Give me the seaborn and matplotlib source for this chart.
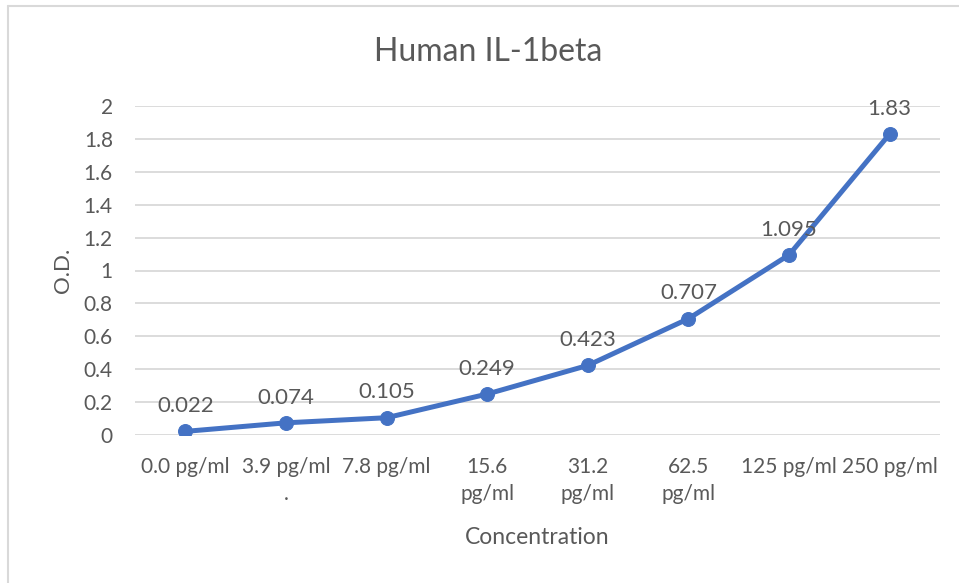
import matplotlib
matplotlib.use("Agg")
import matplotlib.pyplot as plt
import seaborn as sns
import pandas as pd
from matplotlib.lines import Line2D

categories = ["0.0 pg/ml", "3.9 pg/ml\n.", "7.8 pg/ml", "15.6\npg/ml",
              "31.2\npg/ml", "62.5\npg/ml", "125 pg/ml", "250 pg/ml"]
od_values = [0.022, 0.074, 0.105, 0.249, 0.423, 0.707, 1.095, 1.83]
value_labels = ["0.022", "0.074", "0.105", "0.249", "0.423", "0.707", "1.095", "1.83"]
y_ticks = [0, 0.2, 0.4, 0.6, 0.8, 1, 1.2, 1.4, 1.6, 1.8, 2]
y_tick_labels = ["0", "0.2", "0.4", "0.6", "0.8", "1", "1.2", "1.4", "1.6", "1.8", "2"]

sns.set_theme(style="white")
plt.rcParams['font.family'] = ['Lato', 'DejaVu Sans']

df = pd.DataFrame({"Concentration": categories, "OD": od_values, "x": range(len(categories))})

fig = plt.figure(figsize=(9.59, 5.83), dpi=100)
ax = fig.add_axes([135/959, (583-435)/583, (940-135)/959, (435-106)/583])

line_color = "#4472C4"
text_color = "#595959"

sns.lineplot(data=df, x="x", y="OD", ax=ax, color=line_color, linewidth=3.6,
             marker="o", markersize=10, markeredgecolor=line_color, sort=False)

ax.set_xlim(-0.5, len(categories) - 0.5)
ax.set_ylim(0, 2)
ax.set_yticks(y_ticks)
ax.set_yticklabels(y_tick_labels)
ax.set_xticks(range(len(categories)))
ax.set_xticklabels(categories, linespacing=1.45)
ax.tick_params(axis="both", colors=text_color, labelsize=15, length=0)
ax.tick_params(axis="y", pad=16)
ax.tick_params(axis="x", pad=16)
ax.yaxis.grid(True, color="#D9D9D9", linewidth=1.3)
ax.set_axisbelow(True)
for s in ax.spines.values():
    s.set_visible(False)

for i, (v, lab) in enumerate(zip(od_values, value_labels)):
    ax.annotate(lab, (i, v), xytext=(0, 11), textcoords="offset points",
                ha="center", va="bottom", fontsize=16, color=text_color)

ax.set_xlabel("Concentration", fontsize=16.5, color=text_color, labelpad=16)
ax.set_ylabel("O.D.", fontsize=16, color=text_color, labelpad=8)
fig.text(488/959, 1 - 52/583, "Human IL-1beta", ha="center", va="center",
         fontsize=23, color=text_color)

# chart border (left and top visible)
fig.add_artist(Line2D([8/959, 8/959], [0, 1 - 6/583], transform=fig.transFigure,
                      color="#D9D9D9", linewidth=1.5))
fig.add_artist(Line2D([8/959, 1], [1 - 6/583, 1 - 6/583], transform=fig.transFigure,
                      color="#D9D9D9", linewidth=1.5))

fig.savefig("out.png", dpi=100, facecolor="white")
